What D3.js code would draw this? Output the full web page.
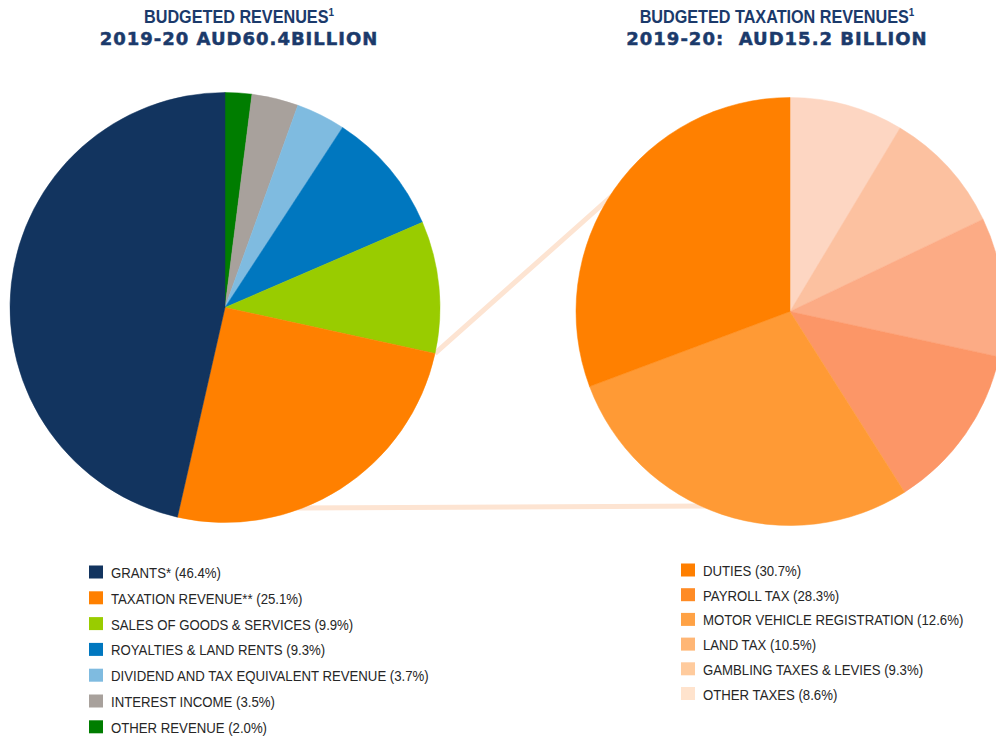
<!DOCTYPE html>
<html>
<head>
<meta charset="utf-8">
<script src="https://cdn.jsdelivr.net/npm/d3@7"></script>
<style>
  html, body { margin: 0; padding: 0; background: #ffffff; }
  svg { display: block; }
</style>
</head>
<body>
<svg id="chart" width="996" height="736"></svg>
<script>
// ---------- DATA ----------
// Left pie (clockwise from 12 o'clock)
const revCategories = ["OTHER REVENUE", "INTEREST INCOME", "DIVIDEND AND TAX EQUIVALENT REVENUE",
  "ROYALTIES & LAND RENTS", "SALES OF GOODS & SERVICES", "TAXATION REVENUE**", "GRANTS*"];
const revValues = [2.0, 3.5, 3.7, 9.3, 9.9, 25.1, 46.4];
const revPieColors = ["#007D00", "#A8A19C", "#7FBBE0", "#0077BF", "#99CC00", "#FF8000", "#12345F"];
// Legend order (top to bottom)
const revLegendOrder = ["GRANTS*", "TAXATION REVENUE**", "SALES OF GOODS & SERVICES",
  "ROYALTIES & LAND RENTS", "DIVIDEND AND TAX EQUIVALENT REVENUE", "INTEREST INCOME", "OTHER REVENUE"];

// Right pie (clockwise from 12 o'clock)
const taxCategories = ["OTHER TAXES", "GAMBLING TAXES & LEVIES", "LAND TAX",
  "MOTOR VEHICLE REGISTRATION", "PAYROLL TAX", "DUTIES"];
const taxValues = [8.6, 9.3, 10.5, 12.6, 28.3, 30.7];
const taxPieColors = ["#FDD6C2", "#FCC1A0", "#FCAB85", "#FC9667", "#FF9A35", "#FF8000"];
const taxLegendColors = ["#FFE3CD", "#FFCB9D", "#FFB675", "#FFA245", "#FF8B25", "#FF7F00"];
const taxLegendOrder = ["DUTIES", "PAYROLL TAX", "MOTOR VEHICLE REGISTRATION", "LAND TAX",
  "GAMBLING TAXES & LEVIES", "OTHER TAXES"];

const titles = [
  { line1: "BUDGETED REVENUES", line2: "2019-20 AUD60.4BILLION" },
  { line1: "BUDGETED TAXATION REVENUES", line2: "2019-20:  AUD15.2 BILLION" }
];

// ---------- LAYOUT ----------
const svg = d3.select("#chart");
const navy = "#1B3A6B";
const narrow = "'Liberation Sans Narrow', 'Arial Narrow', 'Liberation Sans', sans-serif";
const wide = "'DejaVu Sans', 'Liberation Sans', sans-serif";

const left = { cx: 225, cy: 307.5, r: 215 };
const right = { cx: 790, cy: 311.5, r: 214 };

const pie = d3.pie().sort(null).value(d => d.v);
const revArcs = pie(revCategories.map((c, i) => ({ c, v: revValues[i], col: revPieColors[i] })));
const taxArcs = pie(taxCategories.map((c, i) => ({ c, v: taxValues[i], col: taxPieColors[i] })));

// ---------- CONNECTORS (drawn underneath the pies) ----------
const taxSlice = revArcs.find(a => a.data.c === "TAXATION REVENUE**");
const sa = taxSlice.startAngle;
const p0 = [left.cx + left.r * Math.sin(sa), left.cy - left.r * Math.cos(sa)];
const conn = svg.append("g").attr("stroke", "#FDE4D2").attr("stroke-width", 5).attr("fill", "none");
conn.append("line").attr("x1", p0[0]).attr("y1", p0[1]).attr("x2", 650).attr("y2", 162);
conn.append("line").attr("x1", 296).attr("y1", 508).attr("x2", 710).attr("y2", 506);

// ---------- PIES ----------
function drawPie(arcs, c) {
  const arc = d3.arc().innerRadius(0).outerRadius(c.r);
  svg.append("g").attr("transform", `translate(${c.cx},${c.cy})`)
    .selectAll("path").data(arcs).join("path")
    .attr("d", arc)
    .attr("fill", d => d.data.col)
    .attr("stroke", d => d.data.col)
    .attr("stroke-width", 0.5);
}
drawPie(revArcs, left);
drawPie(taxArcs, right);

// ---------- TITLES ----------
function drawTitle(t, cx) {
  const t1 = svg.append("text")
    .attr("transform", `translate(${cx},23) scale(0.9,1)`)
    .attr("text-anchor", "middle")
    .attr("font-family", narrow).attr("font-weight", "bold")
    .attr("font-size", 18).attr("fill", navy);
  t1.append("tspan").text(t.line1);
  t1.append("tspan").attr("font-size", 11).attr("dy", -7).text("1");
  svg.append("text")
    .attr("x", cx).attr("y", 45)
    .attr("text-anchor", "middle")
    .attr("font-family", wide).attr("font-weight", "bold")
    .attr("font-size", 18).attr("letter-spacing", 1)
    .attr("fill", navy)
    .attr("stroke", navy).attr("stroke-width", 0.5)
    .style("white-space", "pre")
    .text(t.line2);
}
drawTitle(titles[0], 239);
drawTitle(titles[1], 777);

// ---------- LEGENDS ----------
function drawLegend(order, cats, vals, cols, x0, y0, step) {
  const g = svg.append("g").attr("transform", `translate(${x0},${y0})`);
  const rows = g.selectAll("g").data(order).join("g")
    .attr("transform", (d, i) => `translate(0,${i * step})`);
  rows.append("rect").attr("x", 0).attr("y", 0).attr("width", 14).attr("height", 13)
    .attr("fill", d => cols[cats.indexOf(d)]);
  rows.append("text")
    .attr("transform", "translate(22,12.5) scale(0.88,1)")
    .attr("font-family", narrow).attr("font-size", 15).attr("fill", "#262626")
    .text(d => `${d} (${vals[cats.indexOf(d)].toFixed(1)}%)`);
}
drawLegend(revLegendOrder, revCategories, revValues, revPieColors, 89, 565.5, 25.8);
drawLegend(taxLegendOrder, taxCategories, taxValues, taxLegendColors, 681, 563.5, 24.7);
</script>
</body>
</html>
